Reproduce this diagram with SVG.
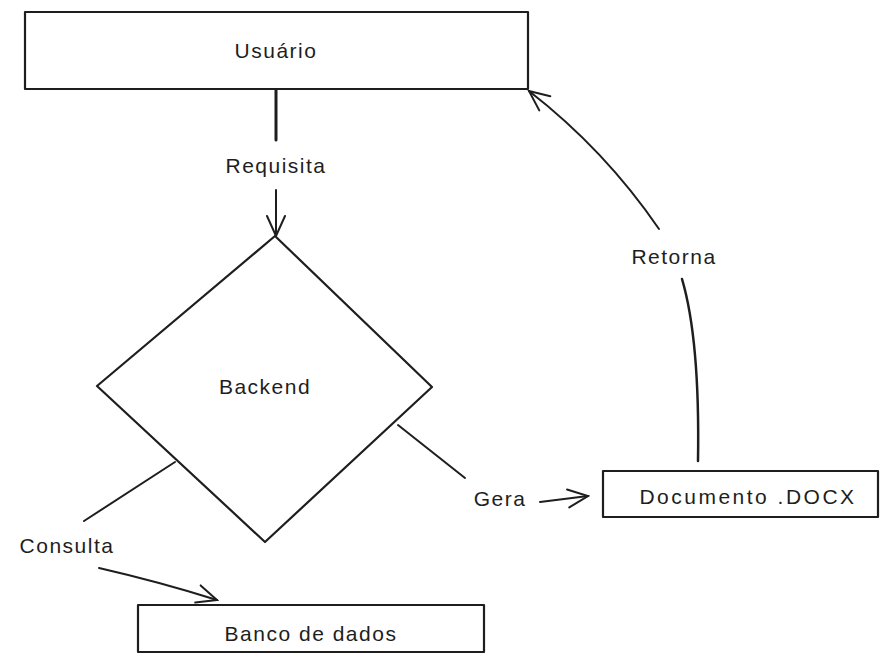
<svg xmlns="http://www.w3.org/2000/svg" width="885" height="662" viewBox="0 0 885 662">
<style>
.shape{fill:#fff;stroke:#1e1e1e;stroke-width:2.2;stroke-linejoin:round}
.edge{fill:none;stroke:#1e1e1e;stroke-width:2;stroke-linecap:round}
.lbl{font-family:"Liberation Sans",Arial,sans-serif;font-size:21px;fill:#1e1e1e;text-anchor:middle;dominant-baseline:central;letter-spacing:1.5px}
</style>
<defs>
<marker id="arr" viewBox="0 0 24 24" refX="22" refY="12" markerWidth="24" markerHeight="24" markerUnits="userSpaceOnUse" orient="auto">
<path d="M2,3 L22,12 L2,21" fill="none" stroke="#1e1e1e" stroke-width="2" stroke-linecap="round"/>
</marker>
</defs>
<rect width="885" height="662" fill="#fff"/>
<g id="edges">
<line class="edge" x1="276" y1="89" x2="276" y2="140" style="stroke-width:3"/>
<line class="edge" x1="276" y1="190" x2="276" y2="236" marker-end="url(#arr)"/>
<line class="edge" x1="175" y1="462" x2="84" y2="521"/>
<path class="edge" d="M99,568 Q160,582 217,600" marker-end="url(#arr)"/>
<line class="edge" x1="398" y1="425" x2="465" y2="478"/>
<line class="edge" x1="540" y1="502" x2="588" y2="496" marker-end="url(#arr)"/>
<path class="edge" d="M698,461 Q700,340 682,279" style="stroke-width:2.5"/>
<path class="edge" d="M659,229 Q605,150 529,91" marker-end="url(#arr)"/>
</g>
<g id="usuario">
<rect class="shape" x="25" y="12" width="503" height="77"/>
<text class="lbl" x="276" y="50">Usuário</text>
</g>
<g id="backend">
<polygon class="shape" points="275,236 432,387 265,542 97,386"/>
<text class="lbl" x="265" y="386">Backend</text>
</g>
<g id="banco">
<rect class="shape" x="138" y="605" width="346" height="47"/>
<text class="lbl" x="311" y="633">Banco de dados</text>
</g>
<g id="documento">
<rect class="shape" x="603" y="471" width="275" height="46"/>
<text class="lbl" x="748" y="496" style="letter-spacing:2.5px">Documento .DOCX</text>
</g>
<g id="labels">
<text class="lbl" x="276" y="165">Requisita</text>
<text class="lbl" x="67" y="545">Consulta</text>
<text class="lbl" x="500" y="498">Gera</text>
<text class="lbl" x="674" y="256">Retorna</text>
</g>
</svg>
